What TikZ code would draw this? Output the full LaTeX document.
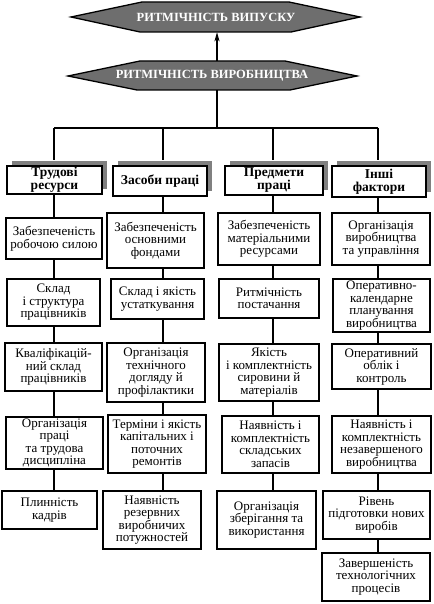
\documentclass[tikz,border=0pt]{standalone}
\usepackage{fontspec}
\setmainfont{Liberation Serif}
\usetikzlibrary{arrows.meta,shadows}
\definecolor{hexgray}{RGB}{110,110,110}
\definecolor{shgray}{RGB}{128,128,128}
\pgfdeclarelayer{background}
\pgfsetlayers{background,main}
\tikzset{
 box/.style={draw, fill=white, rectangle, inner sep=0pt, align=center,
   font=\fontsize{13}{12.5}\selectfont, line width=1.2pt},
 thk/.style={line width=2.3pt},
 med/.style={line width=1.7pt},
 thn/.style={line width=1.2pt},
 hdr/.style={box, font=\fontsize{13.5}{13}\selectfont\bfseries,
   general shadow={fill=shgray, shadow xshift=5pt, shadow yshift=5pt}},
 hexshape/.style={draw, fill=hexgray, line width=1.3pt},
 hextext/.style={text=white, font=\fontsize{12.5}{13}\selectfont\bfseries, inner sep=0pt},
 conn/.style={line width=1.3pt},
 colconn/.style={line width=2.3pt},
}
\newcommand\bx[7]{%
 \node[box,#6, minimum width={#4-#2}, minimum height={#5-#3}] (#1)
   at ({(#2+#4)/2},{(#3+#5)/2}) {#7};}
\begin{document}
\begin{tikzpicture}[x=1pt,y=-1pt]
\useasboundingbox (0,0) rectangle (433,604);
% hexagons
\draw[hexshape] (71,17) -- (142,2) -- (289,2) -- (360,17) -- (291,32) -- (140,32) -- cycle;
\draw[hexshape] (68,76) -- (140,61) -- (285,61) -- (357,76) -- (290,90) -- (137,90) -- cycle;
\node[hextext, minimum height=30pt] (h1) at (216,17) {РИТМІЧНІСТЬ ВИПУСКУ};
\node[hextext, minimum height=29pt] (h2) at (212,75.5) {РИТМІЧНІСТЬ ВИРОБНИЦТВА};
\coordinate (hb) at (217,128);
\coordinate (c1) at (54,0);
\coordinate (c2) at (163,0);
\coordinate (c3) at (273,0);
\coordinate (c4) at (378,0);
% headers
\bx{H1}{7}{166}{102}{194}{hdr,med}{Трудові\\ресурси}
\bx{H2}{113}{166}{207}{196}{hdr,med}{Засоби праці}
\bx{H3}{225}{166}{323}{195}{hdr,med}{Предмети\\праці}
\bx{H4}{332}{166}{426}{197}{hdr,thk}{Інші\\фактори}
% column 1
\bx{a1}{6}{218}{102}{259}{thk}{Забезпеченість\\робочою силою}
\bx{b1}{7}{279}{100}{326}{thk}{Склад\\і структура\\працівників}
\bx{c1b}{5}{343}{102}{391}{thn}{Кваліфікацій-\\ний склад\\працівників}
\bx{d1}{6}{417}{103}{469}{thk}{Організація\\праці\\та трудова\\дисципліна}
\bx{e1}{2}{491}{97}{529}{thk}{Плинність\\кадрів}
% column 2
\bx{a2}{107}{213}{204}{268}{med}{Забезпеченість\\основними\\фондами}
\bx{b2}{111}{279}{204}{319}{thn}{Склад і якість\\устаткування}
\bx{c2b}{107}{343}{205}{402}{thk}{Організація\\технічного\\догляду й\\профілактики}
\bx{d2}{108}{415}{206}{473}{med}{Терміни і якість\\капітальних і\\поточних\\ремонтів}
\bx{e2}{103}{491}{201}{549}{thk}{Наявність\\резервних\\виробничих\\потужностей}
% column 3
\bx{a3}{218}{213}{320}{265}{med}{Забезпеченість\\матеріальними\\ресурсами}
\bx{b3}{219}{279}{319}{318}{thn}{Ритмічність\\постачання}
\bx{c3b}{219}{344}{319}{401}{thn}{Якість\\і комплектність\\сировини й\\матеріалів}
\bx{d3}{222}{416}{319}{473}{thk}{Наявність і\\комплектність\\складських\\запасів}
\bx{e3}{217}{491}{316}{549}{thk}{Організація\\зберігання та\\використання}
% column 4
\bx{a4}{332}{213}{430}{265}{thn}{Організація\\виробництва\\та управління}
\bx{b4}{333}{279}{430}{332}{thk}{Оперативно-\\календарне\\планування\\виробництва}
\bx{c4b}{332}{344}{431}{389}{thn}{Оперативний\\облік і\\контроль}
\bx{d4}{332}{416}{431}{473}{thk}{Наявність і\\комплектність\\незавершеного\\виробництва}
\bx{e4}{323}{491}{430}{539}{thn}{Рівень\\підготовки нових\\виробів}
\bx{f4}{322}{553}{430}{601}{thn}{Завершеність\\технологічних\\процесів}
\begin{pgfonlayer}{background}
\draw[conn, -{Stealth[length=9pt,width=5pt,inset=2pt]}] (h2.north -| hb) -- (h1.south -| hb);
\draw[conn] (h2.south -| hb) -- (hb);
\draw[conn] (hb -| c1) -- (hb -| c4);
\foreach \c/\h in {c1/H1,c2/H2,c3/H3,c4/H4}{
  \draw[conn] (hb -| \c) -- ([yshift=5pt]\h.north -| \c);
}
\draw[colconn] (H1.south -| c1) -- (a1.north -| c1);
\draw[colconn] (a1.south -| c1) -- (b1.north -| c1);
\draw[colconn] (b1.south -| c1) -- (c1b.north -| c1);
\draw[colconn] (c1b.south -| c1) -- (d1.north -| c1);
\draw[colconn] (d1.south -| c1) -- (e1.north -| c1);
\draw[colconn] (H2.south -| c2) -- (a2.north -| c2);
\draw[colconn] (a2.south -| c2) -- (b2.north -| c2);
\draw[colconn] (b2.south -| c2) -- (c2b.north -| c2);
\draw[colconn] (c2b.south -| c2) -- (d2.north -| c2);
\draw[colconn] (d2.south -| c2) -- (e2.north -| c2);
\draw[colconn] (H3.south -| c3) -- (a3.north -| c3);
\draw[colconn] (a3.south -| c3) -- (b3.north -| c3);
\draw[colconn] (b3.south -| c3) -- (c3b.north -| c3);
\draw[colconn] (c3b.south -| c3) -- (d3.north -| c3);
\draw[colconn] (d3.south -| c3) -- (e3.north -| c3);
\draw[conn] (H4.south -| c4) -- (a4.north -| c4);
\draw[conn] (a4.south -| c4) -- (b4.north -| c4);
\draw[conn] (b4.south -| c4) -- (c4b.north -| c4);
\draw[conn] (c4b.south -| c4) -- (d4.north -| c4);
\draw[conn] (d4.south -| c4) -- (e4.north -| c4);
\draw[conn] (e4.south -| c4) -- (f4.north -| c4);
\end{pgfonlayer}
\end{tikzpicture}
\end{document}
